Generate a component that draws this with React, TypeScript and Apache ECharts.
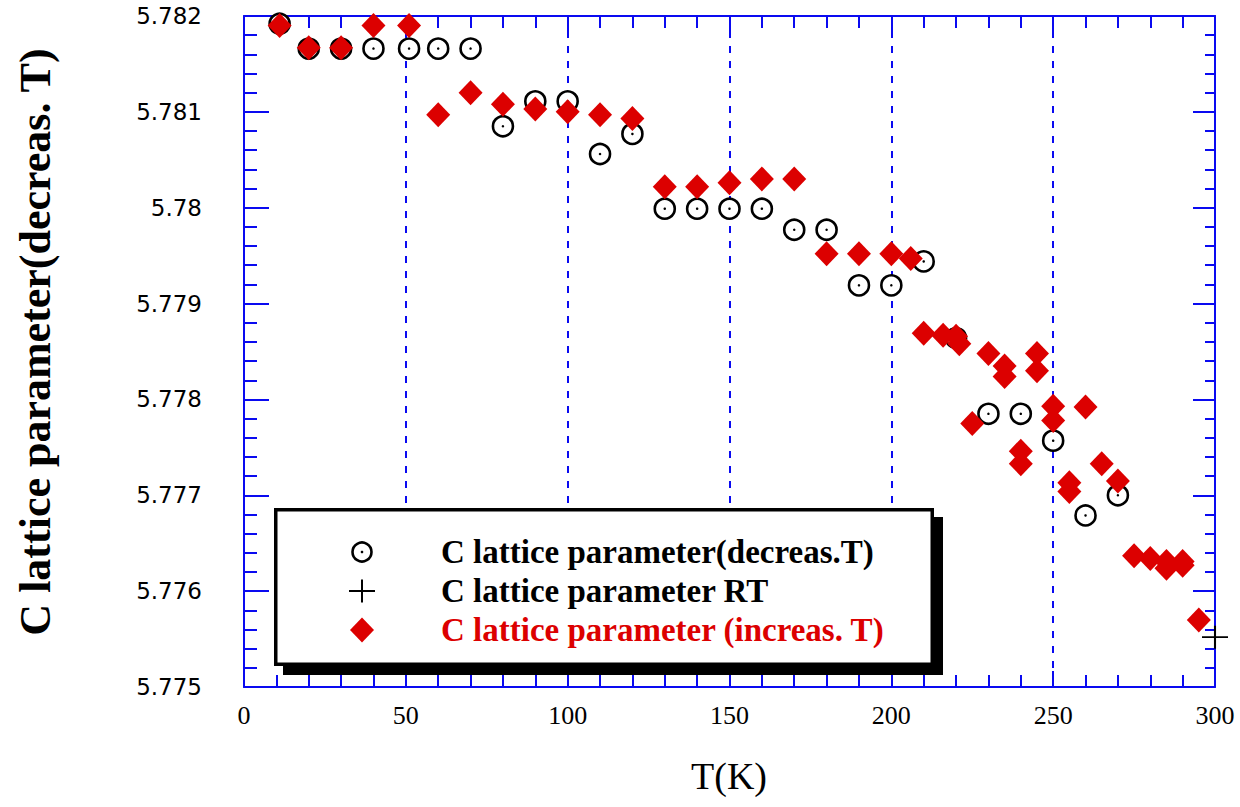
import React, { useEffect, useRef } from "react";
import * as echarts from "echarts";

// C lattice parameter on decreasing temperature (open circles)
const decreasingT = [11, 20, 30, 40, 51, 60, 70, 80, 90, 100, 110, 120, 130, 140, 150, 160, 170, 180, 190, 200, 210, 220, 230, 240, 250, 260, 270];
const decreasingC = [5.78192, 5.78166, 5.78166, 5.78166, 5.78166, 5.78166, 5.78166, 5.78085, 5.78111, 5.78111, 5.78056, 5.78077, 5.77999, 5.77999, 5.77999, 5.77999, 5.77977, 5.77977, 5.77919, 5.77919, 5.77944, 5.77864, 5.77785, 5.77785, 5.77757, 5.77679, 5.777];

// C lattice parameter at room temperature (plus)
const rtT = [300];
const rtC = [5.77552];

// C lattice parameter on increasing temperature (red diamonds)
const increasingT = [11, 20, 30, 40, 51, 60, 70, 80, 90, 100, 110, 120, 130, 140, 150, 160, 170, 180, 190, 200, 206, 210, 216, 220, 221, 225, 230, 235, 235, 240, 240, 245, 245, 250, 250, 255, 255, 260, 265, 270, 275, 280, 285, 285, 290, 290, 295];
const increasingC = [5.7819, 5.78167, 5.78167, 5.7819, 5.7819, 5.78097, 5.7812, 5.78108, 5.78103, 5.781, 5.78097, 5.78093, 5.78022, 5.78022, 5.78026, 5.7803, 5.7803, 5.77952, 5.77952, 5.77952, 5.77947, 5.77869, 5.77867, 5.77866, 5.77858, 5.77775, 5.77848, 5.77835, 5.77824, 5.77746, 5.77733, 5.77848, 5.7783, 5.77793, 5.77778, 5.77713, 5.77704, 5.77792, 5.77733, 5.77715, 5.77637, 5.77634, 5.77631, 5.77624, 5.77631, 5.77627, 5.7757];

const legendLabels = [
  "C lattice parameter(decreas.T)",
  "C lattice parameter RT",
  "C lattice parameter (increas. T)",
];
const xTitle = "T(K)";
const yTitle = "C lattice parameter(decreas. T)";

const BLUE = "#0a0af0";
const RED = "#dc0000";

const zip = (xs: number[], ys: number[]) => xs.map((x, i) => [x, ys[i]]);

const mkAxisLine = () => ({ show: true, onZero: false, lineStyle: { color: BLUE, width: 2 } });
const mkTick = (length: number) => ({ show: true, inside: true, length, lineStyle: { color: BLUE, width: 2 } });
const mkMinor = (length: number) => ({ show: true, splitNumber: 5, length, lineStyle: { color: BLUE, width: 2 } });

export default function App() {
  const ref = useRef<HTMLDivElement>(null);
  useEffect(() => {
    document.body.style.margin = "0";
    const chart = echarts.init(ref.current!, null, { renderer: "svg" });
    chart.setOption({
      animation: false,
      backgroundColor: "#ffffff",
      grid: { left: 244, right: 25, top: 16, bottom: 120 },
      xAxis: [
        {
          type: "value", min: 0, max: 300, interval: 50, position: "bottom",
          axisLine: mkAxisLine(),
          axisTick: mkTick(16),
          minorTick: mkMinor(12),
          splitLine: { show: true, lineStyle: { color: BLUE, width: 2, type: [7, 8] } },
          axisLabel: { margin: 15, fontFamily: "Liberation Serif", fontSize: 26, color: "#000" },
        },
        {
          type: "value", min: 0, max: 300, interval: 50, position: "top",
          axisLine: mkAxisLine(),
          axisTick: mkTick(16),
          minorTick: mkMinor(12),
          splitLine: { show: false },
          axisLabel: { show: false },
        },
      ],
      yAxis: [
        {
          type: "value", min: 5.775, max: 5.782, interval: 0.001, position: "left",
          axisLine: mkAxisLine(),
          axisTick: mkTick(25),
          minorTick: mkMinor(13),
          splitLine: { show: false },
          axisLabel: { margin: 42, fontFamily: "DejaVu Sans", fontSize: 23, color: "#000" },
        },
        {
          type: "value", min: 5.775, max: 5.782, interval: 0.001, position: "right",
          axisLine: mkAxisLine(),
          axisTick: mkTick(22),
          minorTick: mkMinor(10),
          splitLine: { show: false },
          axisLabel: { show: false },
        },
      ],
      series: [
        {
          name: legendLabels[0],
          type: "scatter",
          data: zip(decreasingT, decreasingC),
          symbol: "circle",
          symbolSize: 20,
          clip: false,
          itemStyle: { color: "#ffffff", borderColor: "#000", borderWidth: 2.6, opacity: 1 },
        },
        {
          name: "centre dots",
          type: "scatter",
          data: zip(decreasingT, decreasingC),
          symbol: "circle",
          symbolSize: 2.5,
          clip: false,
          itemStyle: { color: "#000", opacity: 1 },
        },
        {
          name: legendLabels[2],
          type: "scatter",
          data: zip(increasingT, increasingC),
          symbol: "diamond",
          symbolSize: [24, 25],
          clip: false,
          itemStyle: { color: RED, opacity: 1 },
        },
        {
          name: legendLabels[1],
          type: "scatter",
          data: zip(rtT, rtC),
          symbol: "path://M0,9.2h20v1.6h-20z M9.2,0h1.6v20h-1.6z",
          symbolSize: [26, 23],
          clip: false,
          itemStyle: { color: "#000", opacity: 1 },
        },
      ],
      graphic: [
        {
          type: "text",
          x: 729,
          y: 776,
          style: { text: xTitle, font: '38px "Liberation Serif"', fill: "#000", textAlign: "center", textVerticalAlign: "middle" },
        },
        { type: "rect", z: 100, shape: { x: 283, y: 517, width: 660, height: 158 }, style: { fill: "#000" } },
        { type: "rect", z: 101, shape: { x: 275.75, y: 509.75, width: 656.5, height: 154.5 }, style: { fill: "#fff", stroke: "#000", lineWidth: 3.5 } },
        { type: "circle", z: 102, shape: { cx: 362, cy: 552, r: 9.5 }, style: { fill: "#fff", stroke: "#000", lineWidth: 2.6 } },
        { type: "circle", z: 103, shape: { cx: 362, cy: 552, r: 1.3 }, style: { fill: "#000" } },
        { type: "line", z: 102, shape: { x1: 349, y1: 591, x2: 375, y2: 591 }, style: { stroke: "#000", lineWidth: 2 } },
        { type: "line", z: 102, shape: { x1: 362, y1: 579.5, x2: 362, y2: 602.5 }, style: { stroke: "#000", lineWidth: 2 } },
        { type: "polygon", z: 102, shape: { points: [[362, 617.5], [374, 630], [362, 642.5], [350, 630]] }, style: { fill: RED } },
        { type: "text", z: 103, x: 441, y: 552, style: { text: legendLabels[0], font: 'bold 33px "Liberation Serif"', fill: "#000", textVerticalAlign: "middle" } },
        { type: "text", z: 103, x: 441, y: 591, style: { text: legendLabels[1], font: 'bold 33px "Liberation Serif"', fill: "#000", textVerticalAlign: "middle" } },
        { type: "text", z: 103, x: 441, y: 630, style: { text: legendLabels[2], font: 'bold 33px "Liberation Serif"', fill: RED, textVerticalAlign: "middle" } },
      ],
    });
    return () => chart.dispose();
  }, []);
  return (
    <div style={{ position: "relative", width: 1240, height: 807, background: "#fff" }}>
      <div ref={ref} style={{ position: "absolute", left: 0, top: 0, width: 1240, height: 807 }} />
      <div
        style={{
          position: "absolute",
          left: 36,
          top: 342,
          transform: "translate(-50%, -50%) rotate(-90deg)",
          whiteSpace: "nowrap",
          font: 'bold 44px "Liberation Serif"',
          lineHeight: 1,
          color: "#000",
          pointerEvents: "none",
        }}
      >
        {yTitle}
      </div>
    </div>
  );
}
